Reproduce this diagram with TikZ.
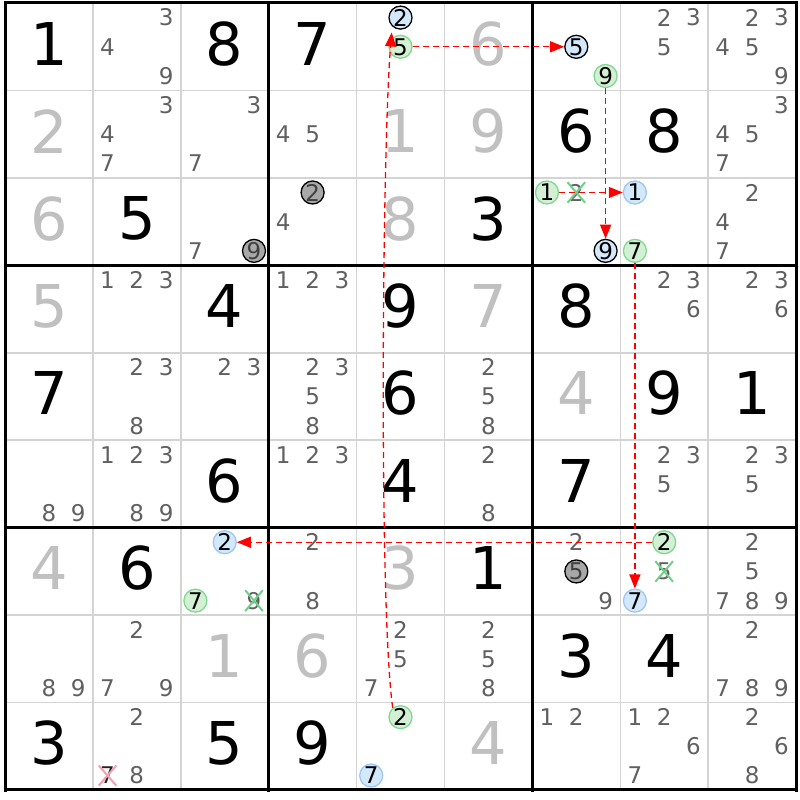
\documentclass[tikz,border=0pt]{standalone}
\usepackage{fontspec}
\setmainfont{DejaVu Sans}
\usetikzlibrary{arrows.meta}
\definecolor{solvedgray}{HTML}{C0C0C0}
\definecolor{candgray}{HTML}{606060}
\definecolor{bluefill}{HTML}{D4E8FC}
\definecolor{blueline}{HTML}{9CC8F4}
\definecolor{greenfill}{HTML}{D4F0D4}
\definecolor{greenline}{HTML}{80D890}
\definecolor{grayfill}{HTML}{A8A8A8}
\definecolor{thingrid}{HTML}{D4D4D4}
\definecolor{crossgreen}{HTML}{70D088}
\definecolor{crosspink}{HTML}{F4A0B0}
\tikzset{
  given/.style={font=\fontsize{59}{59}\selectfont, text=black, inner sep=0pt},
  solved/.style={given, text=solvedgray},
  cand/.style={font=\fontsize{23}{23}\selectfont, text=candgray, inner sep=0pt},
  bluec/.style={cand, text=black, circle, minimum size=23pt, fill=bluefill, draw=blueline, line width=1.3pt},
  bluek/.style={bluec, draw=black},
  greenc/.style={bluec, fill=greenfill, draw=greenline},
  grayc/.style={bluec, fill=grayfill, draw=black, text=black!75},
  chain/.style={draw=red, line width=1.3pt, dash pattern=on 6pt off 4pt, -{Triangle[length=14pt,width=11pt,fill=red]}},
  crossline/.style={line width=2pt, shorten <=-2pt, shorten >=-2pt},
}
\newcommand\given[3]{\node[given] (g#1#2) at ({5+87.9*#2+43.95},{3+87.44*#1+40.7}) {#3};}
\newcommand\solved[3]{\node[solved] (g#1#2) at ({5+87.9*#2+43.95},{3+87.44*#1+40.7}) {#3};}
\newcommand\cnd[4][cand]{\node[#1] (n#2#3#4) at ({5+87.9*#3+14.6+29.3*mod(#4-1,3)},{3+87.44*#2+14.6+29.2*floor((#4-1)/3)}) {#4};}
\newcommand\cands[3]{\foreach \dd in {#3}{\cnd{#1}{#2}{\dd}}}
\newcommand\crossout[2]{\draw[crossline, #2] (#1.north west) -- (#1.south east); \draw[crossline, #2] (#1.north east) -- (#1.south west);}
\begin{document}
\begin{tikzpicture}[x=1pt,y=-1pt]
\useasboundingbox (0,0) rectangle (800,800);
\fill[white] (0,0) rectangle (800,800);
% grid
\foreach \i in {0,...,9}{
  \draw[thingrid, line width=1.5pt] ({5+87.9*\i},3) -- ({5+87.9*\i},790);
  \draw[thingrid, line width=1.5pt] (5,{3+87.44*\i}) -- (796.1,{3+87.44*\i});
}
\foreach \i in {0,3,6,9}{
  \draw[black, line width=3pt] ({5+87.9*\i},1.5) -- ({5+87.9*\i},791.5);
  \draw[black, line width=3pt] (3.5,{3+87.44*\i}) -- (797.6,{3+87.44*\i});
}
% row 0
\given{0}{0}{1}
\cands{0}{1}{3,4,9}
\given{0}{2}{8}
\given{0}{3}{7}
\cnd[bluek]{0}{4}{2}
\cnd[greenc]{0}{4}{5}
\solved{0}{5}{6}
\cnd[bluek]{0}{6}{5}
\cnd[greenc]{0}{6}{9}
\cands{0}{7}{2,3,5}
\cands{0}{8}{2,3,4,5,9}
% row 1
\solved{1}{0}{2}
\cands{1}{1}{3,4,7}
\cands{1}{2}{3,7}
\cands{1}{3}{4,5}
\solved{1}{4}{1}
\solved{1}{5}{9}
\given{1}{6}{6}
\given{1}{7}{8}
\cands{1}{8}{3,4,5,7}
% row 2
\solved{2}{0}{6}
\given{2}{1}{5}
\cands{2}{2}{7}
\cnd[grayc]{2}{2}{9}
\cnd[grayc]{2}{3}{2}
\cands{2}{3}{4}
\solved{2}{4}{8}
\given{2}{5}{3}
\cnd[greenc]{2}{6}{1}
\cnd{2}{6}{2}
\cnd[bluek]{2}{6}{9}
\cnd[bluec]{2}{7}{1}
\cnd[greenc]{2}{7}{7}
\cands{2}{8}{2,4,7}
% row 3
\solved{3}{0}{5}
\cands{3}{1}{1,2,3}
\given{3}{2}{4}
\cands{3}{3}{1,2,3}
\given{3}{4}{9}
\solved{3}{5}{7}
\given{3}{6}{8}
\cands{3}{7}{2,3,6}
\cands{3}{8}{2,3,6}
% row 4
\given{4}{0}{7}
\cands{4}{1}{2,3,8}
\cands{4}{2}{2,3}
\cands{4}{3}{2,3,5,8}
\given{4}{4}{6}
\cands{4}{5}{2,5,8}
\solved{4}{6}{4}
\given{4}{7}{9}
\given{4}{8}{1}
% row 5
\cands{5}{0}{8,9}
\cands{5}{1}{1,2,3,8,9}
\given{5}{2}{6}
\cands{5}{3}{1,2,3}
\given{5}{4}{4}
\cands{5}{5}{2,8}
\given{5}{6}{7}
\cands{5}{7}{2,3,5}
\cands{5}{8}{2,3,5}
% row 6
\solved{6}{0}{4}
\given{6}{1}{6}
\cnd[bluec]{6}{2}{2}
\cnd[greenc]{6}{2}{7}
\cnd{6}{2}{9}
\cands{6}{3}{2,8}
\solved{6}{4}{3}
\given{6}{5}{1}
\cands{6}{6}{2,9}
\cnd[grayc]{6}{6}{5}
\cnd[greenc]{6}{7}{2}
\cnd{6}{7}{5}
\cnd[bluec]{6}{7}{7}
\cands{6}{8}{2,5,7,8,9}
% row 7
\cands{7}{0}{8,9}
\cands{7}{1}{2,7,9}
\solved{7}{2}{1}
\solved{7}{3}{6}
\cands{7}{4}{2,5,7}
\cands{7}{5}{2,5,8}
\given{7}{6}{3}
\given{7}{7}{4}
\cands{7}{8}{2,7,8,9}
% row 8
\given{8}{0}{3}
\cands{8}{1}{2,8}
\cnd[cand, text=black!85]{8}{1}{7}
\given{8}{2}{5}
\given{8}{3}{9}
\cnd[greenc]{8}{4}{2}
\cnd[bluec]{8}{4}{7}
\solved{8}{5}{4}
\cands{8}{6}{1,2}
\cands{8}{7}{1,2,6,7}
\cands{8}{8}{2,6,8}
% chain
\draw[chain, shorten >=6pt] (n842.130) .. controls +(-14,-100) and +(-10,120) .. (n042.227);
\draw[chain] (n045.east) -- (n065.west);
\draw[chain] (n069.south) -- (n269.north);
\draw[chain] (n261.east) -- (n271.west);
\draw[chain] (n277.south) -- (n677.north);
\draw[chain] (n672.west) -- (n622.east);
% eliminations
\crossout{n262}{crossgreen}
\crossout{n629}{crossgreen}
\crossout{n675}{crossgreen}
\crossout{n817}{crosspink}
\end{tikzpicture}
\end{document}
